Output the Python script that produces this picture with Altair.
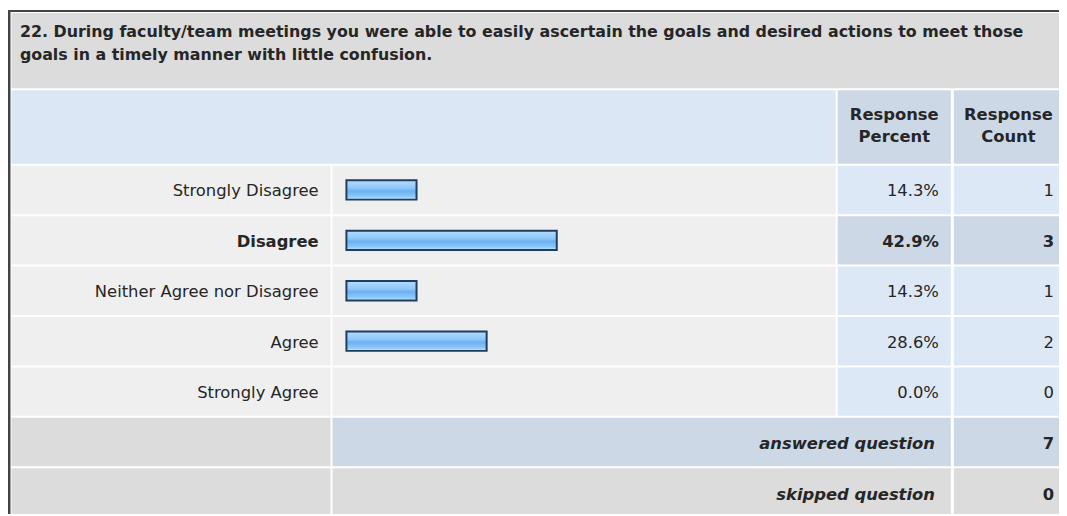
import altair as alt
import pandas as pd

# ---------------- data ----------------
question_lines = [
    "22. During faculty/team meetings you were able to easily ascertain the goals and desired actions to meet those",
    "goals in a timely manner with little confusion.",
]
answers = ["Strongly Disagree", "Disagree", "Neither Agree nor Disagree", "Agree", "Strongly Agree"]
percents = [14.3, 42.9, 14.3, 28.6, 0.0]
counts = [1, 3, 1, 2, 0]
summary_labels = ["answered question", "skipped question"]
summary_counts = [7, 0]
header_text = ["Response", "Percent", "Response", "Count"]
header_col = ["pct", "pct", "cnt", "cnt"]
header_line = [0, 1, 0, 1]

# ---------------- layout / style ----------------
W, H = 1059, 508
FONT = "DejaVu Sans"
TXT = "#262626"
FS = 16.5
FS_TITLE = 16
GRAY = "#dcdcdc"
LIGHT = "#efefef"
BLUE = "#dde8f6"
BLUE_D = "#cdd8e6"
HEAD = "#dce7f5"
DY = 1.5

LAB = (3, 325)
BAR = (327, 834)
PCT = (836, 950)
CNT = (953, W)
ROW0 = 157
STEP = 50.8
GAP = 2

max_count = max(counts)

cells = [
    dict(x=0, x2=W, y=0, y2=H, fill="#444444"),
    dict(x=2.5, x2=W, y=2, y2=H, fill="#ffffff"),
    dict(x=LAB[0] + 0.5, x2=W, y=3, y2=79, fill=GRAY),
    dict(x=LAB[0] + 0.5, x2=BAR[1], y=81, y2=155, fill=HEAD),
    dict(x=PCT[0], x2=PCT[1], y=81, y2=155, fill=BLUE_D),
    dict(x=CNT[0], x2=CNT[1], y=81, y2=155, fill=BLUE_D),
]
for i, c in enumerate(counts):
    t = ROW0 + i * STEP
    b = t + STEP - GAP
    val_fill = BLUE_D if c == max_count else BLUE
    cells += [
        dict(x=LAB[0] + 0.5, x2=LAB[1], y=t, y2=b, fill=LIGHT),
        dict(x=BAR[0], x2=BAR[1], y=t, y2=b, fill=LIGHT),
        dict(x=PCT[0], x2=PCT[1], y=t, y2=b, fill=val_fill),
        dict(x=CNT[0], x2=CNT[1], y=t, y2=b, fill=val_fill),
    ]
for j, fill in enumerate([BLUE_D, GRAY]):
    t = ROW0 + (len(answers) + j) * STEP
    b = min(t + STEP - GAP, H)
    cells += [
        dict(x=LAB[0] + 0.5, x2=LAB[1], y=t, y2=b, fill=GRAY),
        dict(x=BAR[0], x2=PCT[1], y=t, y2=b, fill=fill),
        dict(x=CNT[0], x2=CNT[1], y=t, y2=b, fill=fill),
    ]
cells_df = pd.DataFrame(cells)

px_x = alt.Scale(domain=[0, W], range=[0, W], zero=False, nice=False)
px_y = alt.Scale(domain=[0, H], range=[0, H], zero=False, nice=False)

cell_layer = alt.Chart(cells_df).mark_rect().encode(
    x=alt.X("x:Q", scale=px_x, axis=None),
    x2="x2:Q",
    y=alt.Y("y:Q", scale=px_y, axis=None),
    y2="y2:Q",
    fill=alt.Fill("fill:N", scale=None),
)

# title
title_df = pd.DataFrame({"line": question_lines, "i": list(range(len(question_lines)))})
title_layer = alt.Chart(title_df).mark_text(
    align="left", baseline="middle", font=FONT, fontSize=FS_TITLE, fontWeight="bold", color=TXT, dy=0.5
).encode(
    x=alt.value(12),
    y=alt.Y("i:O", scale=alt.Scale(type="point", domain=[0, 1], range=[22, 45], padding=0), axis=None),
    text="line:N",
)

# header
head_df = pd.DataFrame({"t": header_text, "col": header_col, "ln": header_line})
head_layer = alt.Chart(head_df).mark_text(
    align="center", baseline="middle", font=FONT, fontSize=FS, fontWeight="bold", color=TXT, dy=0.5
).encode(
    x=alt.X("col:N", scale=alt.Scale(type="point", domain=["pct", "cnt"], range=[893, 1008], padding=0), axis=None),
    y=alt.Y("ln:O", scale=alt.Scale(type="point", domain=[0, 1], range=[105, 128], padding=0), axis=None),
    text="t:N",
)

# answer rows
ans_df = pd.DataFrame({"answer": answers, "pct": percents, "count": counts})
ans_df["pct_txt"] = ans_df["pct"].map(lambda v: f"{v:.1f}%")
ans_df["is_max"] = ans_df["count"] == max_count

row_scale = alt.Scale(type="band", domain=answers, range=[ROW0 - 1, ROW0 - 1 + STEP * len(answers)],
                      paddingInner=0, paddingOuter=0)
yrow = alt.Y("answer:N", scale=row_scale, axis=None)

gradient = alt.Gradient(
    gradient="linear",
    stops=[
        alt.GradientStop(color="#b4dcff", offset=0),
        alt.GradientStop(color="#8cc6fa", offset=0.42),
        alt.GradientStop(color="#6cb0f2", offset=0.55),
        alt.GradientStop(color="#8ecaf9", offset=0.85),
        alt.GradientStop(color="#c6eeff", offset=1),
    ],
    x1=0, x2=0, y1=0, y2=1,
)

bar_layer = alt.Chart(ans_df).transform_filter("datum.pct > 0").mark_bar(
    height=19.5, fill=gradient, stroke="#1f3d5e", strokeWidth=2, cornerRadius=0
).encode(
    x=alt.X("pct:Q", scale=alt.Scale(domain=[0, 100], range=[341, 341 + 494], zero=True, nice=False), axis=None),
    y=yrow,
)


def row_text(field, xpos, bold, align="right"):
    return alt.Chart(ans_df).transform_filter(
        "datum.is_max" if bold else "!datum.is_max"
    ).mark_text(
        align=align, baseline="middle", font=FONT, fontSize=FS, dy=DY,
        fontWeight="bold" if bold else "normal", color=TXT,
    ).encode(x=alt.value(xpos), y=yrow, text=f"{field}:N")


text_layers = []
for bold in (False, True):
    text_layers += [
        row_text("answer", 313, bold),
        row_text("pct_txt", 938, bold),
        row_text("count", 1054, bold),
    ]

# summary rows
sum_df = pd.DataFrame({"label": summary_labels, "n": summary_counts})
sum_y = alt.Y("label:N", scale=alt.Scale(type="band", domain=summary_labels,
                                          range=[ROW0 - 1 + STEP * 5, ROW0 - 1 + STEP * 7],
                                          paddingInner=0, paddingOuter=0), axis=None)
sum_lab = alt.Chart(sum_df).mark_text(
    align="right", baseline="middle", font=FONT, fontSize=FS, fontWeight="bold", fontStyle="italic",
    color=TXT, dy=DY + 1
).encode(x=alt.value(934), y=sum_y, text="label:N")
sum_val = alt.Chart(sum_df).mark_text(
    align="right", baseline="middle", font=FONT, fontSize=FS, fontWeight="bold", color=TXT, dy=DY + 1
).encode(x=alt.value(1054), y=sum_y, text="n:N")

chart = alt.layer(
    cell_layer, title_layer, head_layer, bar_layer, *text_layers, sum_lab, sum_val
).resolve_scale(x="independent", y="independent").properties(
    width=W, height=H, padding=0, autosize=alt.AutoSizeParams(type="none")
).configure_view(stroke=None)

chart.save("out.html", embed_options={"renderer": "svg", "actions": False})
